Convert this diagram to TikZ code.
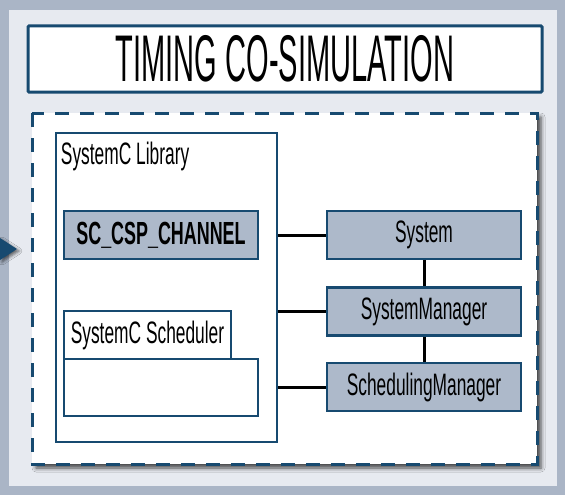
\documentclass[tikz,border=0pt]{standalone}
\usepackage{fontspec}
\setmainfont{Liberation Sans}
\newfontfamily\agency[FakeStretch=0.56]{Liberation Sans}
\newfontfamily\agencytitle[FakeStretch=0.44]{Liberation Sans}
\usetikzlibrary{shadows.blur}
\definecolor{frame}{HTML}{AAB5C6}
\definecolor{panel}{HTML}{E7EAF0}
\definecolor{navy}{HTML}{174A70}
\definecolor{steel}{HTML}{ADB9CA}
\begin{document}
\begin{tikzpicture}[x=1pt,y=-1pt,
  txt/.style={font=\agency\fontsize{31}{36}\selectfont},
  unit/.style={txt,draw=navy,line width=2.5pt,fill=steel,minimum width=194pt,minimum height=48pt,inner sep=0pt},
  pane/.style={draw=navy,line width=2.5pt,fill=white,inner sep=0pt},
  link/.style={line width=3pt}]
  \fill[frame] (0,0) rectangle (565,495);
  \fill[panel] (9,10) rectangle (557,486);
  \fill[navy,blur shadow={shadow xshift=2pt,shadow yshift=-2pt,shadow blur radius=3pt,shadow opacity=60}] (0,238) -- (17,249) -- (0,260) -- cycle;
  \node[draw=navy,line width=3pt,fill=white,rounded corners=1pt,minimum width=514pt,minimum height=66pt,
        font=\agencytitle\fontsize{66}{72}\selectfont] (title) at (285,59) {TIMING CO-SIMULATION};
  \draw[navy,line width=3pt,dash pattern=on 14pt off 11pt,fill=white,
        blur shadow={shadow xshift=4pt,shadow yshift=-4pt,shadow blur radius=4pt,shadow opacity=70}] (32,113) rectangle (537,464);
  \node[pane,minimum width=221pt,minimum height=309pt] (lib) at (166.5,287.5) {};
  \node[txt,anchor=base west,inner sep=0pt] (libname) at ([shift={(6,33)}]lib.north west) {SystemC Library};
  \node[unit,font=\agency\bfseries\fontsize{32}{36}\selectfont] (chan) at (161,235) {SC\_CSP\_CHANNEL};
  \node[pane,txt,minimum width=167pt,minimum height=48pt] (tab) at (147.5,335) {SystemC Scheduler};
  \node[pane,minimum width=194pt,minimum height=57pt] (pool) at (161,387.5) {};
  \node[unit] (sys) at (424,235) {System};
  \node[unit] (mgr) at (424,311.5) {SystemManager};
  \node[unit] (sched) at (424,387) {SchedulingManager};
  \foreach \n in {sys,mgr,sched}
    \draw[link] (\n.west -| lib.east) -- (\n.west);
  \draw[link] (sys) -- (mgr);
  \draw[link] (mgr) -- (sched);
\end{tikzpicture}
\end{document}
